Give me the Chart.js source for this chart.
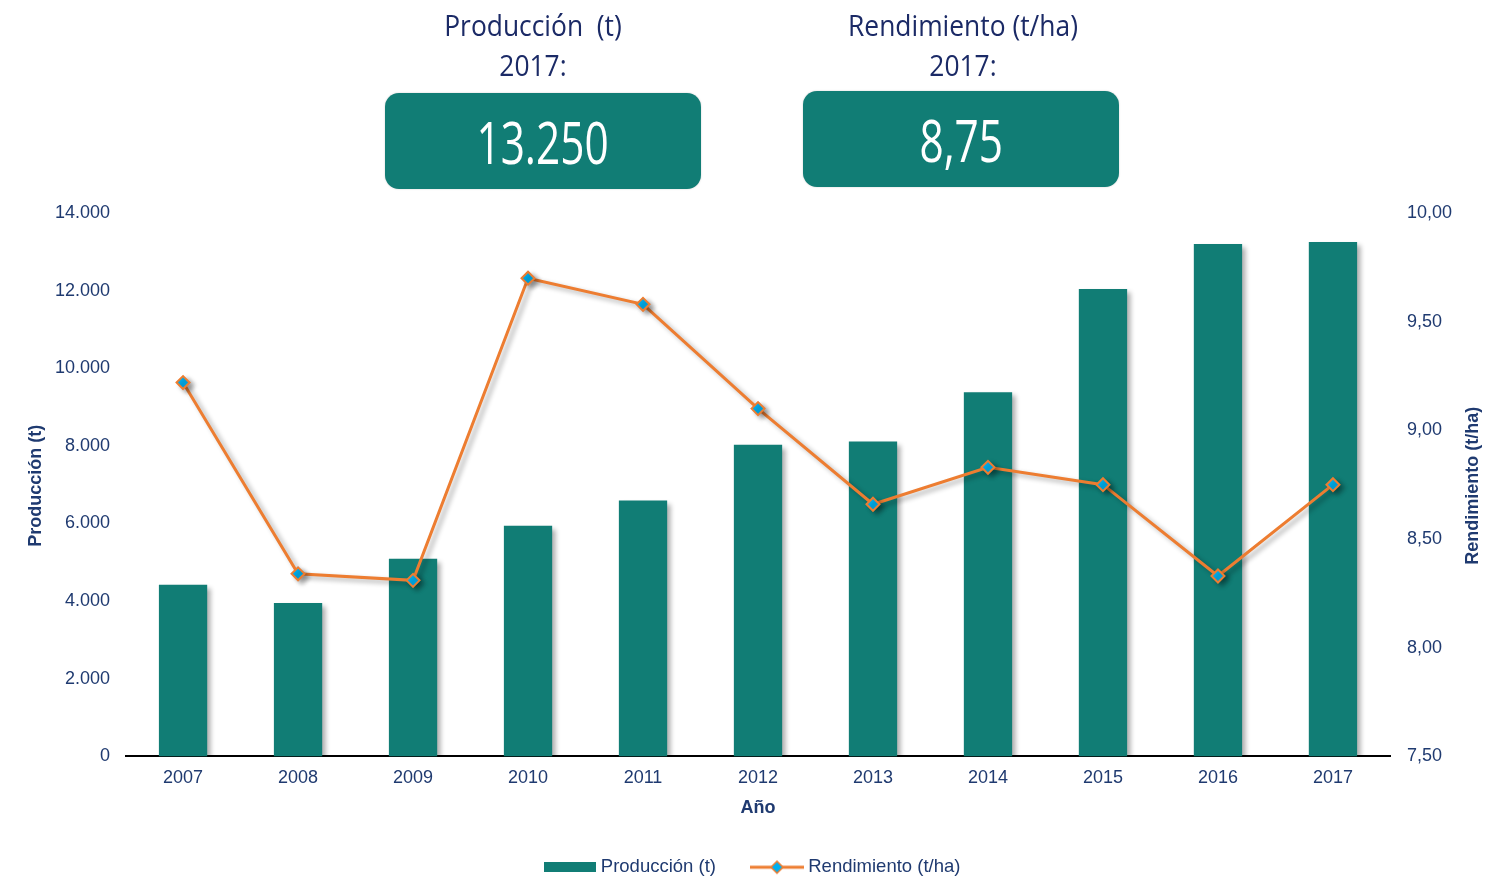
<!DOCTYPE html>
<html>
<head>
<meta charset="utf-8">
<script src="https://cdn.jsdelivr.net/npm/chart.js@4.4.1/dist/chart.umd.min.js"></script>
<style>
  html, body { margin:0; padding:0; background:#fff; }
  #wrap { position:relative; width:1512px; height:880px; overflow:hidden; }
  #c { position:absolute; left:0; top:0; }
  .hd { position:absolute; color:#1B2A66; font-family:"Open Sans", sans-serif; font-size:29px; text-align:center; width:400px; line-height:1; transform:scaleX(0.91); }
  .box { position:absolute; background:#117D75; border-radius:14px; color:#fff; font-family:"Open Sans", sans-serif; font-weight:400; font-size:58px; display:flex; align-items:center; justify-content:center; box-shadow:0 0 2px rgba(0,0,0,0.2); }
  .box span { display:inline-block; transform:scaleX(0.73); }
</style>
</head>
<body>
<div id="wrap">
  <canvas id="c" width="1512" height="880"></canvas>
  <div class="hd" style="left:333px; top:10px;">Producción&nbsp; (t)</div>
  <div class="hd" style="left:333px; top:50px;">2017:</div>
  <div class="hd" style="left:763px; top:10px;">Rendimiento (t/ha)</div>
  <div class="hd" style="left:763px; top:50px;">2017:</div>
  <div class="box" style="left:385px; top:93px; width:316px; height:96px;"><span id="v1"></span></div>
  <div class="box" style="left:803px; top:91px; width:316px; height:96px;"><span id="v2"></span></div>
</div>
<script>
const years = ['2007','2008','2009','2010','2011','2012','2013','2014','2015','2016','2017'];
const produccion = [4420, 3950, 5090, 5940, 6590, 8030, 8110, 9380, 12040, 13200, 13250];
const rendimiento = [9.22, 8.34, 8.31, 9.70, 9.58, 9.10, 8.66, 8.83, 8.75, 8.33, 8.75];
const leftTicks = [0, 2000, 4000, 6000, 8000, 10000, 12000, 14000];
const rightTicks = [7.5, 8.0, 8.5, 9.0, 9.5, 10.0];
const leftTitle = 'Producción (t)';
const rightTitle = 'Rendimiento (t/ha)';

const TEAL = '#117D75';
const ORANGE = '#ED7D31';
const CYAN = '#00B0F0';
const NAVY = '#1F3A70';
const FONT = 'Liberation Sans, Arial, sans-serif';

function fmtThousands(v) {
  return String(Math.round(v)).replace(/\B(?=(\d{3})+(?!\d))/g, '.');
}
function fmtDec(v) { return v.toFixed(2).replace('.', ','); }

document.getElementById('v1').textContent = fmtThousands(produccion[produccion.length-1]);
document.getElementById('v2').textContent = fmtDec(rendimiento[rendimiento.length-1]);

// legend marker images
const barImg = document.createElement('canvas');
barImg.width = 52; barImg.height = 10;
(function(){ const g = barImg.getContext('2d'); g.fillStyle = TEAL; g.fillRect(0,0,52,10); })();
const lineImg = document.createElement('canvas');
lineImg.width = 54; lineImg.height = 16;
(function(){
  const g = lineImg.getContext('2d');
  g.strokeStyle = ORANGE; g.lineWidth = 3;
  g.beginPath(); g.moveTo(0,8); g.lineTo(54,8); g.stroke();
  g.beginPath(); g.moveTo(27,2); g.lineTo(33,8); g.lineTo(27,14); g.lineTo(21,8); g.closePath();
  g.fillStyle = CYAN; g.fill(); g.lineWidth = 1.5; g.stroke();
})();

const shadowPlugin = {
  id: 'shadows',
  beforeDatasetDraw(chart) {
    const ctx = chart.ctx;
    ctx.save();
    ctx.shadowColor = 'rgba(0,0,0,0.33)';
    ctx.shadowBlur = 5;
    ctx.shadowOffsetX = 4;
    ctx.shadowOffsetY = 3;
  },
  afterDatasetDraw(chart) { chart.ctx.restore(); }
};

const axisTitles = {
  id: 'axisTitles',
  afterDraw(chart) {
    const ctx = chart.ctx, a = chart.chartArea;
    const cy = (a.top + a.bottom) / 2 + 1;
    ctx.save();
    ctx.fillStyle = NAVY;
    ctx.font = 'bold 18px ' + FONT;
    ctx.textAlign = 'center';
    ctx.textBaseline = 'middle';
    [[a.left - 90, leftTitle], [a.right + 83, rightTitle]].forEach(([x, t]) => {
      ctx.save();
      ctx.translate(x, cy);
      ctx.rotate(-Math.PI / 2);
      ctx.fillText(t, 0, 0);
      ctx.restore();
    });
    ctx.restore();
  }
};

new Chart(document.getElementById('c'), {
  type: 'bar',
  data: {
    labels: years,
    datasets: [
      {
        type: 'line',
        label: 'Rendimiento (t/ha)',
        data: rendimiento,
        yAxisID: 'y1',
        borderColor: ORANGE,
        borderWidth: 3,
        pointStyle: 'rectRot',
        pointRadius: 6.5,
        pointHoverRadius: 6.5,
        pointBackgroundColor: CYAN,
        pointBorderColor: ORANGE,
        pointBorderWidth: 2,
        tension: 0,
        order: 1
      },
      {
        type: 'bar',
        label: 'Producción (t)',
        data: produccion,
        yAxisID: 'y',
        backgroundColor: TEAL,
        categoryPercentage: 1.0,
        barPercentage: 0.42,
        order: 2
      }
    ]
  },
  options: {
    responsive: false,
    animation: false,
    layout: { padding: { top: 213, left: 39.5, right: 43.5, bottom: 0 } },
    plugins: {
      tooltip: { enabled: false },
      legend: {
        position: 'bottom',
        reverse: true,
        maxHeight: 61,
        labels: {
          usePointStyle: true,
          pointStyleWidth: 44,
          padding: 39,
          color: NAVY,
          font: { family: FONT, size: 18.5 },
          generateLabels(chart) {
            const items = Chart.defaults.plugins.legend.labels.generateLabels(chart);
            items.forEach(it => { it.pointStyle = it.datasetIndex === 1 ? barImg : lineImg; });
            return items;
          }
        }
      }
    },
    scales: {
      x: {
        grid: { display: false, drawTicks: false },
        border: { display: true, color: '#000', width: 2 },
        ticks: { color: NAVY, font: { family: FONT, size: 18, lineHeight: 1 }, padding: 13 },
        title: { display: true, text: 'Año', color: NAVY, font: { family: FONT, size: 18, weight: 'bold', lineHeight: 1.2 }, padding: { top: -3, bottom: 0 } }
      },
      y: {
        position: 'left',
        min: 0, max: 14000,
        afterBuildTicks(scale) { scale.ticks = leftTicks.map(v => ({ value: v })); },
        grid: { display: false, drawTicks: false },
        border: { display: false },
        ticks: { color: NAVY, font: { family: FONT, size: 18 }, padding: 15.5, callback: v => fmtThousands(v) },
        title: { display: false }
      },
      y1: {
        position: 'right',
        min: 7.5, max: 10,
        afterBuildTicks(scale) { scale.ticks = rightTicks.map(v => ({ value: v })); },
        grid: { display: false, drawTicks: false },
        border: { display: false },
        ticks: { color: NAVY, font: { family: FONT, size: 18 }, padding: 16.5, callback: v => fmtDec(v) },
        title: { display: false }
      }
    }
  },
  plugins: [shadowPlugin, axisTitles]
});
</script>
</body>
</html>
